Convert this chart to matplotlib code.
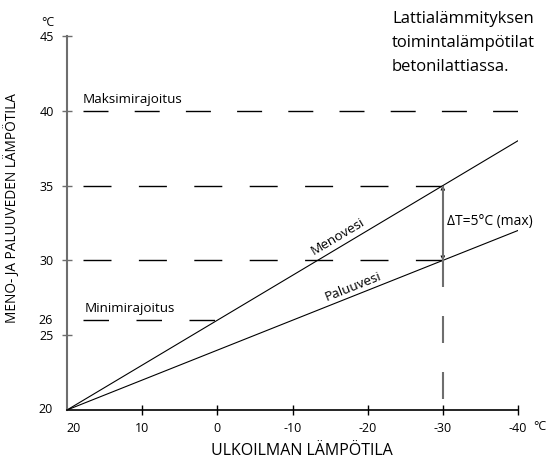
import numpy as np
from matplotlib import pyplot as plt

plt.rcParams['font.family'] = ['Open Sans', 'DejaVu Sans']
plt.rcParams['lines.scale_dashes'] = False

# outdoor temperature (°C) and water temperatures
outdoor = [20, -40]
supply = [20, 38]      # Menovesi
ret = [20, 32]         # Paluuvesi
max_limit = 40
min_limit = 26
design_outdoor = -30
design_supply = 35
design_return = 30

x_ticks = [10, 0, -10, -20, -30, -40]
y_ticks = [25, 30, 35, 40, 45]

PX = 0.72  # points per pixel at dpi 100

fig = plt.figure(figsize=(5.55, 4.59), dpi=100)
ax = fig.add_axes([67 / 555, 49 / 459, 451 / 555, 374 / 459])
ax.set_xlim(20, -40)
ax.set_ylim(20, 45)

grey = '#6e6e6e'
for s in ['top', 'right']:
    ax.spines[s].set_visible(False)
ax.spines['left'].set_color(grey)
ax.spines['left'].set_linewidth(1.5)
ax.spines['bottom'].set_color('black')
ax.spines['bottom'].set_linewidth(1.2)

ax.set_xticks(x_ticks)
ax.set_xticklabels([str(v) for v in x_ticks])
ax.set_yticks(y_ticks)
ax.set_yticklabels([str(v) for v in y_ticks])
ax.tick_params(axis='x', direction='inout', length=7, width=1.0, color='black',
               labelsize=9, pad=5)
ax.tick_params(axis='y', direction='inout', length=7, width=1.0, color=grey,
               labelsize=9, pad=6)

# labels without tick marks
ax.annotate('20', xy=(20, 20), xycoords='data', xytext=(5, -8.5),
            textcoords='offset points', ha='center', va='top', fontsize=9)
ax.annotate('20', xy=(20, 20), xycoords='data', xytext=(-10, 0),
            textcoords='offset points', ha='right', va='center', fontsize=9)
ax.annotate('26', xy=(20, min_limit), xycoords='data', xytext=(-10, 0),
            textcoords='offset points', ha='right', va='center', fontsize=9)
fig.text(546 / 555, 1 - 427 / 459, '°C', ha='right', va='center', fontsize=9)
fig.text(48 / 555, 1 - 22 / 459, '°C', ha='center', va='center', fontsize=9)

# supply and return lines
ax.plot(outdoor, supply, color='black', lw=0.8)
ax.plot(outdoor, ret, color='black', lw=0.8)

# limit / design dashed lines
x0 = 20 - 16 / 7.5
l40, = ax.plot([x0, -40], [max_limit] * 2, color='black', lw=1.0)
l40.set_dashes([25 * PX, 26.2 * PX])
l35, = ax.plot([x0, design_outdoor], [design_supply] * 2, color='black', lw=1.0)
l35.set_dashes([28 * PX, 27.4 * PX])
l30, = ax.plot([x0, design_outdoor], [design_return] * 2, color='black', lw=1.0)
l30.set_dashes([28 * PX, 27.4 * PX])
l26, = ax.plot([x0, 0], [min_limit] * 2, color='black', lw=1.0)
l26.set_dashes([25.5 * PX, 27.5 * PX])

vl, = ax.plot([design_outdoor, design_outdoor], [design_return, 20],
              color=grey, lw=1.5)
vl.set_dashes([27 * PX, 29 * PX])

# delta-T arrow: black heads, grey shaft
ax.annotate('', xy=(design_outdoor, design_supply), xytext=(design_outdoor, design_return),
            arrowprops=dict(arrowstyle='<->', color='black', lw=0.8,
                            shrinkA=0, shrinkB=0, mutation_scale=6))
ax.plot([design_outdoor, design_outdoor], [design_return + 0.1, design_supply - 0.1],
        color=grey, lw=1.5, zorder=5)
ax.text(design_outdoor - 0.5, 32.6, 'ΔT=5°C (max)', fontsize=10, ha='left', va='center')

ax.text(x0, max_limit + 0.35, 'Maksimirajoitus', fontsize=9.7, ha='left', va='bottom')
ax.text(x0 - 0.2, min_limit + 0.35, 'Minimirajoitus', fontsize=9.7, ha='left', va='bottom')

# line labels rotated along the lines
fig.canvas.draw()
def angle(ys):
    p = ax.transData.transform(np.column_stack([outdoor, ys]))
    return np.degrees(np.arctan2(p[1, 1] - p[0, 1], p[1, 0] - p[0, 0]))

xm = -16.4
ym = np.interp(-xm, [-20, 40], supply)
ax.annotate('Menovesi', xy=(xm, ym), xytext=(0, 3), textcoords='offset points',
            rotation=angle(supply), rotation_mode='anchor', ha='center', va='bottom',
            fontsize=9.7)
xp = -18.4
yp = np.interp(-xp, [-20, 40], ret)
ax.annotate('Paluuvesi', xy=(xp, yp), xytext=(0, 2), textcoords='offset points',
            rotation=angle(ret), rotation_mode='anchor', ha='center', va='bottom',
            fontsize=9.7)

fig.text(392 / 555, 1 - 11 / 459, 'Lattialämmityksen\ntoimintalämpötilat\nbetonilattiassa.',
         ha='left', va='top', fontsize=12, linespacing=1.65)

fig.text(302 / 555, 1 - 451 / 459, 'ULKOILMAN LÄMPÖTILA', ha='center', va='center',
         fontsize=11.5)
fig.text(12 / 555, 1 - 208 / 459, 'MENO- JA PALUUVEDEN LÄMPÖTILA', ha='center',
         va='center', rotation=90, fontsize=9.8)

fig.savefig('out.png', dpi=100)
